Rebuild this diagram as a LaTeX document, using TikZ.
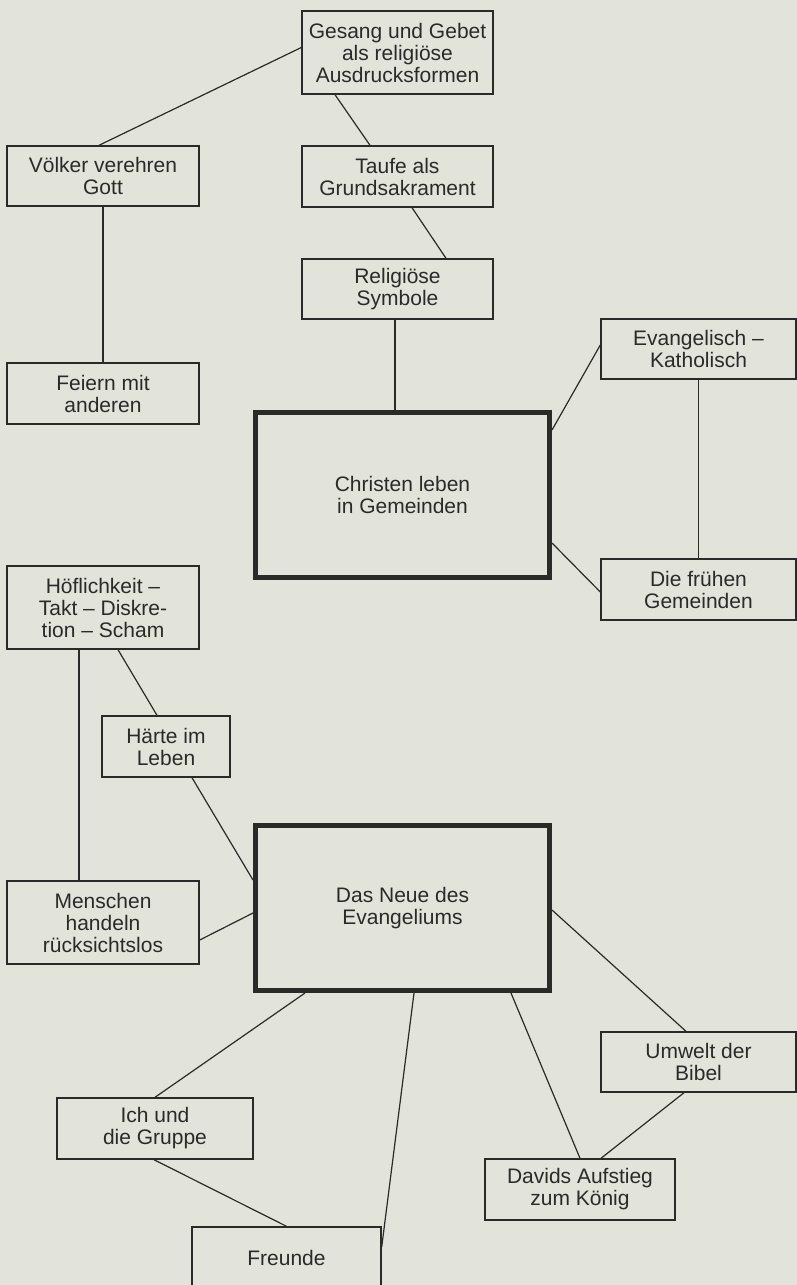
\documentclass[tikz,border=0pt]{standalone}
\usepackage{fontspec}
\setmainfont{Liberation Sans}
\usetikzlibrary{calc}
\definecolor{paper}{RGB}{226,227,219}
\definecolor{ink}{RGB}{42,42,40}
\tikzset{
	box/.style={draw=ink, line width=1.4pt, align=center, inner sep=0pt, text=ink, font=\fontsize{21}{22}\selectfont},
	bigbox/.style={box, line width=5pt, minimum width=294pt, minimum height=165pt},
	link/.style={draw=ink, line width=1.2pt},
}

\begin{document}
\begin{tikzpicture}[x=1pt, y=-1pt]
			%%%%% START %%%%%
			
			\fill[paper] (0, 0) rectangle (797, 1285);
			\useasboundingbox (0, 0) rectangle (797, 1285);
			\clip (0, 0) rectangle (797, 1285);
			
			% upper part
			\node[box, minimum width=191pt, minimum height=83pt] (gesang) at (397.5, 52.5) {Gesang und Gebet\\als religiöse\\Ausdrucksformen};
			\node[box, minimum width=192pt, minimum height=60pt] (voelker) at (103, 176) {Völker verehren\\Gott};
			\node[box, minimum width=191pt, minimum height=61pt] (taufe) at (397.5, 176.5) {Taufe als\\Grundsakrament};
			\node[box, minimum width=191pt, minimum height=60pt] (symbole) at (397.5, 289) {Religiöse\\Symbole};
			\node[box, minimum width=192pt, minimum height=61pt] (feiern) at (103, 393.5) {Feiern mit\\anderen};
			\node[box, minimum width=195pt, minimum height=60pt] (evkath) at (698.5, 349) {Evangelisch –\\Katholisch};
			\node[bigbox] (christen) at (402.5, 495) {Christen leben\\in Gemeinden};
			\node[box, minimum width=195pt, minimum height=61pt] (fruehen) at (698.5, 589.5) {Die frühen\\Gemeinden};
			
			% lower part
			\node[box, minimum width=192pt, minimum height=83pt] (hoeflich) at (103, 607.5) {Höflichkeit –\\Takt – Diskre-\\tion – Scham};
			\node[box, minimum width=128pt, minimum height=61pt] (haerte) at (166, 746.5) {Härte im\\Leben};
			\node[bigbox] (neues) at (402.5, 908) {Das Neue des\\Evangeliums};
			\node[box, minimum width=192pt, minimum height=83pt] (menschen) at (103, 922.5) {Menschen\\handeln\\rücksichtslos};
			\node[box, minimum width=195pt, minimum height=60pt] (umwelt) at (698.5, 1062) {Umwelt der\\Bibel};
			\node[box, minimum width=196pt, minimum height=61pt] (ich) at (155, 1128.5) {Ich und\\die Gruppe};
			\node[box, minimum width=190pt, minimum height=61pt] (davids) at (580, 1189.5) {Davids Aufstieg\\zum König};
			\node[box, minimum width=189pt, minimum height=61pt] (freunde) at (286.5, 1257.5) {Freunde};
			
			% connectors
			\draw[link] ([yshift=5pt]gesang.west) -- ([xshift=-4pt]voelker.north);
			\draw[link] ([xshift=-62.5pt]gesang.south) -- ([xshift=-27.5pt]taufe.north);
			\draw[link] ([xshift=14.5pt]taufe.south) -- ([xshift=48.5pt]symbole.north);
			\draw[link] ([xshift=-2.5pt]symbole.south) -- ([xshift=-2.5pt]symbole.south |- christen.north);
			\draw[link] (voelker.south) -- (feiern.north);
			\draw[link] ([yshift=65pt]christen.east) -- ([yshift=4pt]evkath.west);
			\draw[link] (evkath.south) -- (fruehen.north);
			\draw[link] ([yshift=-48pt]christen.east) -- ([yshift=-2.5pt]fruehen.west);
			
			\draw[link] ([xshift=15pt]hoeflich.south) -- ([xshift=-9pt]haerte.north);
			\draw[link] ([xshift=-24pt]hoeflich.south) -- ([xshift=-24pt]menschen.north);
			\draw[link] ([xshift=26pt]haerte.south) -- ([yshift=28pt]neues.west);
			\draw[link] ([yshift=-17.5pt]menschen.east) -- ([yshift=-5pt]neues.west);
			\draw[link] ([yshift=-2pt]neues.east) -- ([xshift=-12.5pt]umwelt.north);
			\draw[link] ([xshift=108.5pt]neues.south) -- (davids.north);
			\draw[link] ([xshift=-14.5pt]umwelt.south) -- ([xshift=21pt]davids.north);
			\draw[link] ([xshift=-97.5pt]neues.south) -- (ich.north);
			\draw[link] ([xshift=-1pt]ich.south) -- (freunde.north);
			\draw[link] ([xshift=11.5pt]neues.south) -- ([yshift=10.5pt]freunde.east);
			
			%%%%% END %%%%%
\end{tikzpicture}
\end{document}
